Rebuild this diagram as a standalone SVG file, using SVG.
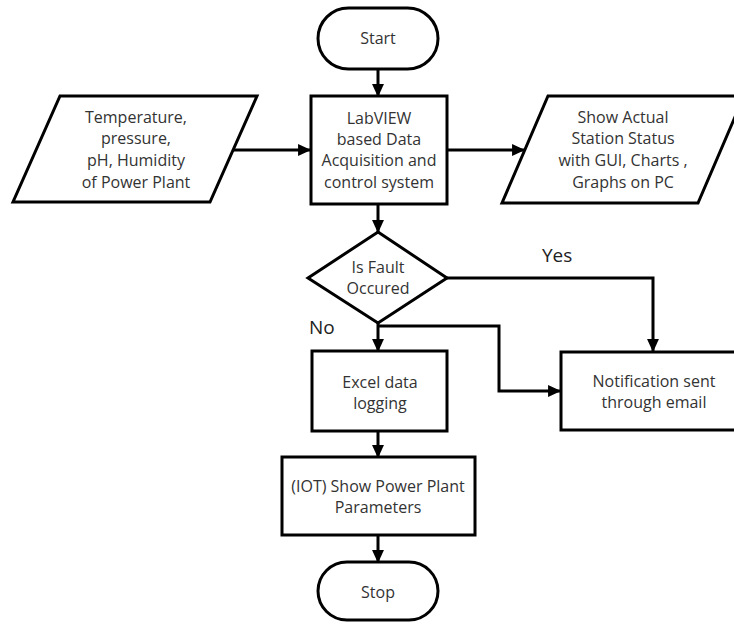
<svg xmlns="http://www.w3.org/2000/svg" width="734" height="624" viewBox="0 0 734 624">
<style>
.s{fill:#fff;stroke:#000;stroke-width:3}
.t{font-family:"Open Sans","Noto Sans",sans-serif;font-size:16px;fill:#333;text-anchor:middle}
.l{font-family:"Open Sans","Noto Sans",sans-serif;font-size:19px;fill:#222}
.c{fill:none;stroke:#000;stroke-width:3}
</style>
<defs>
<marker id="a" viewBox="0 0 12 12" refX="11" refY="6" markerWidth="13" markerHeight="13" markerUnits="userSpaceOnUse" orient="auto">
<path d="M0,0.5 L12,6 L0,11.5 z" fill="#000"/>
</marker>
</defs>
<rect width="734" height="624" fill="#fff"/>
<g id="connectors">
<path class="c" d="M378,69 V96" marker-end="url(#a)"/>
<path class="c" d="M232,150 H310" marker-end="url(#a)"/>
<path class="c" d="M447,150 H524" marker-end="url(#a)"/>
<path class="c" d="M378,204 V232" marker-end="url(#a)"/>
<path class="c" d="M447,278 H653 V351" marker-end="url(#a)"/>
<path class="c" d="M378,323 V351" marker-end="url(#a)"/>
<path class="c" d="M378,326 H499 V391 H560" marker-end="url(#a)"/>
<path class="c" d="M378,431 V457" marker-end="url(#a)"/>
<path class="c" d="M378,535 V562" marker-end="url(#a)"/>
</g>
<g id="start">
<rect class="s" x="318" y="8" width="120" height="61" rx="30.5"/>
<text class="t" x="378" y="44">Start</text>
</g>
<g id="input">
<polygon class="s" points="60,96 257,96 210,202 13,202"/>
<text class="t" x="136" y="123">Temperature,</text>
<text class="t" x="136" y="144">pressure,</text>
<text class="t" x="136" y="166">pH, Humidity</text>
<text class="t" x="136" y="188">of Power Plant</text>
</g>
<g id="labview">
<rect class="s" x="311" y="96" width="136" height="108"/>
<text class="t" x="379" y="124">LabVIEW</text>
<text class="t" x="379" y="145">based Data</text>
<text class="t" x="379" y="166">Acquisition and</text>
<text class="t" x="379" y="188">control system</text>
</g>
<g id="display">
<polygon class="s" points="548,96 744,96 698,203 502,203"/>
<text class="t" x="623" y="123">Show Actual</text>
<text class="t" x="623" y="144">Station Status</text>
<text class="t" x="623" y="166">with GUI, Charts ,</text>
<text class="t" x="623" y="188">Graphs on PC</text>
</g>
<g id="decision">
<polygon class="s" points="378,232 447,278 378,323 308,278"/>
<text class="t" x="378" y="273">Is Fault</text>
<text class="t" x="378" y="294">Occured</text>
</g>
<g id="labels">
<text class="l" x="542" y="262">Yes</text>
<text class="l" x="309" y="334">No</text>
</g>
<g id="excel">
<rect class="s" x="312" y="351" width="135" height="80"/>
<text class="t" x="380" y="388">Excel data</text>
<text class="t" x="380" y="409">logging</text>
</g>
<g id="notify">
<rect class="s" x="561" y="352" width="176" height="78"/>
<text class="t" x="654" y="387">Notification sent</text>
<text class="t" x="654" y="408">through email</text>
</g>
<g id="iot">
<rect class="s" x="282" y="457" width="193" height="78"/>
<text class="t" x="378" y="492">(IOT) Show Power Plant</text>
<text class="t" x="378" y="513">Parameters</text>
</g>
<g id="stop">
<rect class="s" x="318" y="562" width="120" height="58" rx="29"/>
<text class="t" x="378" y="598">Stop</text>
</g>
</svg>
